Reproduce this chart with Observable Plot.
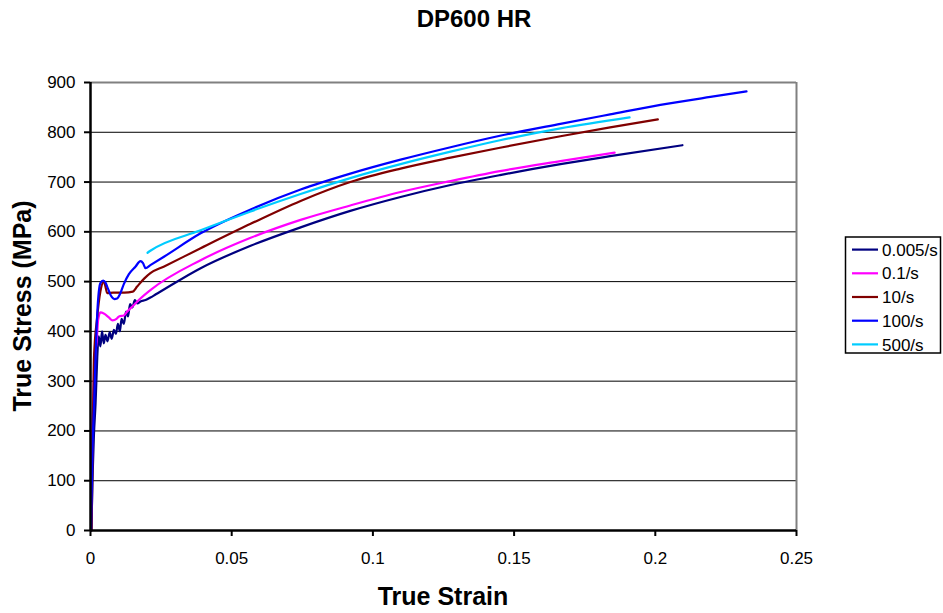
<!DOCTYPE html>
<html><head><meta charset="utf-8">
<script src="https://cdn.jsdelivr.net/npm/d3@7"></script>
<script src="https://cdn.jsdelivr.net/npm/@observablehq/plot@0.6"></script>
<style>html,body{margin:0;padding:0;background:#fff;} svg{display:block}</style>
</head><body><div id="chart"></div>
<script>
const chartTitle = "DP600 HR";
const xLabel = "True Strain";
const yLabel = "True Stress (MPa)";
const seriesNames = ["0.005/s", "0.1/s", "10/s", "100/s", "500/s"];
const seriesColors = ["#000080", "#FF00FF", "#800000", "#0000FF", "#00CCFF"];
const xTicks = [0, 0.05, 0.1, 0.15, 0.2, 0.25];
const xTickLabels = ["0", "0.05", "0.1", "0.15", "0.2", "0.25"];
const yTicks = [0, 100, 200, 300, 400, 500, 600, 700, 800, 900];

const strain0005 = [0.0003, 0.0008, 0.0012, 0.0018, 0.0024, 0.0029, 0.0035, 0.0041, 0.0047, 0.0053, 0.006, 0.0068, 0.0075, 0.0083, 0.009, 0.0097, 0.0104, 0.011, 0.0118, 0.0126, 0.0133, 0.014, 0.0148, 0.0157, 0.0166, 0.0177, 0.0195, 0.0212, 0.023, 0.039, 0.0567, 0.0744, 0.092, 0.1098, 0.1275, 0.145, 0.1664, 0.184, 0.2096];
const stress0005 = [0, 120, 190, 256, 349, 390, 370, 400, 376, 393, 380, 398, 385, 403, 395, 415, 400, 425, 415, 440, 430, 455, 448, 463, 456, 460, 463, 468, 474, 527, 572, 609, 642, 670, 694, 714, 736, 752, 774];

const strain01 = [0.0002, 0.0004, 0.0006, 0.0012, 0.0013, 0.0022, 0.0027, 0.0035, 0.0047, 0.0065, 0.0078, 0.0092, 0.0101, 0.0118, 0.013, 0.0152, 0.0171, 0.0212, 0.039, 0.0567, 0.0744, 0.092, 0.1098, 0.1275, 0.145, 0.1664, 0.1856];
const stress01 = [20, 70, 190, 300, 345, 380, 423, 438, 436, 428, 422, 425, 430, 432, 440, 452, 463, 483, 543, 588, 624, 653, 680, 702, 722, 742, 759];

const strain10 = [0.0004, 0.0007, 0.0009, 0.0012, 0.0024, 0.0029, 0.0035, 0.0047, 0.0053, 0.0059, 0.008, 0.012, 0.015, 0.0165, 0.019, 0.0212, 0.0259, 0.039, 0.0567, 0.0744, 0.092, 0.1098, 0.1275, 0.145, 0.1664, 0.184, 0.2009];
const stress10 = [0, 150, 230, 343, 430, 457, 480, 500, 490, 477, 478, 478, 480, 490, 506, 517, 530, 567, 616, 662, 700, 727, 749, 769, 792, 810, 826];

const strain100 = [0.0002, 0.0005, 0.0008, 0.0013, 0.0018, 0.0024, 0.0035, 0.0045, 0.0053, 0.0059, 0.0072, 0.0085, 0.0094, 0.0106, 0.0118, 0.0136, 0.0159, 0.0177, 0.0186, 0.0195, 0.0212, 0.026, 0.039, 0.0567, 0.0744, 0.092, 0.1098, 0.1275, 0.145, 0.1664, 0.184, 0.2018, 0.2195, 0.2323];
const stress100 = [0, 100, 180, 260, 350, 437, 497, 502, 498, 490, 472, 465, 466, 477, 495, 515, 530, 541, 537, 527, 533, 550, 597, 645, 685, 717, 745, 770, 793, 817, 836, 855, 871, 882];

const strain500 = [0.0202, 0.0212, 0.039, 0.0567, 0.0744, 0.092, 0.1098, 0.1275, 0.145, 0.1664, 0.1909];
const stress500 = [558, 562, 603, 641, 676, 708, 736, 761, 784, 808, 830];

const strainSets = [strain0005, strain01, strain10, strain100, strain500];
const stressSets = [stress0005, stress01, stress10, stress100, stress500];

const rows = [];
seriesNames.forEach((name, i) => {
  strainSets[i].forEach((s, j) => rows.push({series: name, strain: s, stress: stressSets[i][j]}));
});

const FONT = "'Liberation Sans', Arial, sans-serif";
const W = 943, H = 613;
const mL = 90, mR = 147, mT = 82, mB = 83;

const plot = Plot.plot({
  width: W, height: H,
  marginLeft: mL, marginRight: mR, marginTop: mT, marginBottom: mB,
  style: {fontFamily: FONT, fontSize: "17px", color: "#000", background: "#fff"},
  x: {domain: [0, 0.25], ticks: xTicks},
  y: {domain: [0, 900], ticks: yTicks},
  color: {domain: seriesNames, range: seriesColors},
  marks: [
    Plot.ruleY(yTicks.slice(1, -1), {stroke: "#000", strokeWidth: 1}),
    Plot.ruleY([900], {stroke: "#808080", strokeWidth: 2}),
    Plot.ruleX([0.25], {stroke: "#808080", strokeWidth: 2}),
    Plot.line(rows, {x: "strain", y: "stress", z: "series", stroke: "series", strokeWidth: 2.2, strokeLinejoin: "round", curve: "monotone-x"}),
    Plot.ruleX([0], {stroke: "#000", strokeWidth: 2.5}),
    Plot.ruleY([0], {stroke: "#000", strokeWidth: 2.5}),
    Plot.axisX({ticks: xTicks, tickFormat: (d, i) => xTickLabels[i], tickSize: 6, tickPadding: 15, strokeWidth: 2, label: null, fontSize: 17}),
    Plot.axisY({ticks: yTicks, tickSize: 6, tickPadding: 9, strokeWidth: 2, label: null, fontSize: 17})
  ]
});

const svg = d3.select(plot);
svg.append("text").attr("x", 474).attr("y", 27).attr("text-anchor", "middle")
  .attr("font-family", FONT).attr("font-weight", "bold").attr("font-size", 24).attr("fill", "#000").text(chartTitle);
svg.append("text").attr("x", 443).attr("y", 605).attr("text-anchor", "middle")
  .attr("font-family", FONT).attr("font-weight", "bold").attr("font-size", 25).attr("fill", "#000").text(xLabel);
svg.append("text").attr("transform", "translate(31,306) rotate(-90)").attr("text-anchor", "middle")
  .attr("font-family", FONT).attr("font-weight", "bold").attr("font-size", 25).attr("fill", "#000").text(yLabel);

// legend
const lg = svg.append("g").attr("text-anchor", "start");
const lgTop = 237, lgStep = 23.7, lgFirst = 249.6;
lg.append("rect").attr("x", 845.5).attr("y", lgTop).attr("width", 95).attr("height", 353 - lgTop)
  .attr("fill", "#fff").attr("stroke", "#000").attr("stroke-width", 1.5);
seriesNames.forEach((name, i) => {
  const cy = lgFirst + i * lgStep;
  lg.append("line").attr("x1", 852).attr("x2", 878).attr("y1", cy).attr("y2", cy)
    .attr("stroke", seriesColors[i]).attr("stroke-width", 2.2);
  lg.append("text").attr("x", 882).attr("y", cy).attr("dy", "0.36em").attr("text-anchor", "start")
    .attr("font-family", FONT).attr("font-size", 17).attr("fill", "#000").text(name);
});

document.getElementById("chart").appendChild(plot);
</script>
</body></html>
